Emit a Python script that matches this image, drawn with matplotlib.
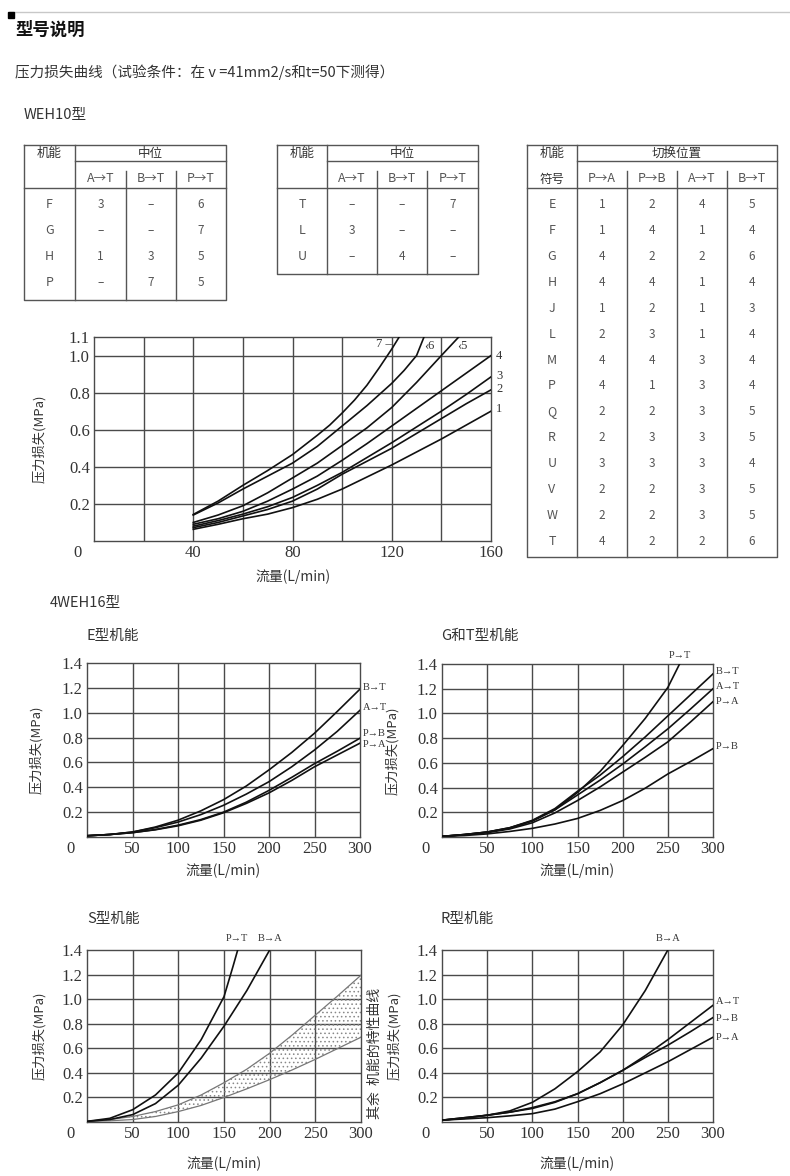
import matplotlib
matplotlib.use('Agg')
import matplotlib.pyplot as plt

plt.rcParams['font.family'] = ['Noto Sans CJK SC', 'DejaVu Sans']
plt.rcParams['hatch.linewidth'] = 0.6
plt.rcParams['lines.solid_joinstyle'] = 'round'
SERIF = ['Liberation Serif', 'DejaVu Serif']
GRID = '#4a4a4a'
TXT = '#333333'

# ---------------- tables (WEH10) ----------------
t1_cols = ['A→T', 'B→T', 'P→T']
t1_rows = ['F', 'G', 'H', 'P']
t1_vals = [['3', '–', '6'], ['–', '–', '7'], ['1', '3', '5'], ['–', '7', '5']]

t2_cols = ['A→T', 'B→T', 'P→T']
t2_rows = ['T', 'L', 'U']
t2_vals = [['–', '–', '7'], ['3', '–', '–'], ['–', '4', '–']]

t3_cols = ['P→A', 'P→B', 'A→T', 'B→T']
t3_rows = ['E', 'F', 'G', 'H', 'J', 'L', 'M', 'P', 'Q', 'R', 'U', 'V', 'W', 'T']
t3_vals = [['1', '2', '4', '5'], ['1', '4', '1', '4'], ['4', '2', '2', '6'],
           ['4', '4', '1', '4'], ['1', '2', '1', '3'], ['2', '3', '1', '4'],
           ['4', '4', '3', '4'], ['4', '1', '3', '4'], ['2', '2', '3', '5'],
           ['2', '3', '3', '5'], ['3', '3', '3', '4'], ['2', '2', '3', '5'],
           ['2', '2', '3', '5'], ['4', '2', '2', '6']]

# ---------------- WEH10 curves ----------------
w10_x = {
    '7': [40, 50, 60, 70, 80, 90, 95, 100, 105, 110, 115, 120, 123],
    '6': [40, 50, 60, 70, 80, 90, 100, 110, 120, 125, 130, 133],
    '5': [40, 50, 60, 70, 80, 90, 100, 110, 120, 130, 140, 147],
    '4': [40, 50, 60, 70, 80, 90, 100, 110, 120, 130, 140, 150, 160],
    '3': [40, 50, 60, 70, 80, 90, 100, 110, 120, 130, 140, 150, 160],
    '2': [40, 50, 60, 70, 80, 90, 100, 110, 120, 130, 140, 150, 160],
    '1': [40, 50, 60, 70, 80, 90, 100, 110, 120, 130, 140, 150, 160],
}
w10_y = {
    '7': [.143, .215, .30, .38, .466, .57, .625, .69, .76, .84, .935, 1.035, 1.10],
    '6': [.14, .205, .28, .35, .42, .51, .62, .73, .85, .92, 1.0, 1.10],
    '5': [.10, .14, .19, .26, .34, .42, .515, .61, .72, .855, 1.0, 1.10],
    '4': [.09, .12, .16, .215, .28, .35, .435, .525, .62, .715, .81, .905, 1.0],
    '3': [.08, .11, .145, .185, .235, .30, .37, .45, .53, .615, .70, .79, .885],
    '2': [.072, .10, .135, .17, .215, .28, .36, .43, .50, .58, .66, .74, .815],
    '1': [.063, .09, .12, .145, .18, .225, .28, .345, .41, .48, .55, .625, .70],
}

# ---------------- 4WEH16 curves ----------------
q25 = [0, 25, 50, 75, 100, 125, 150, 175, 200, 225, 250, 275, 300]

e_curves = {
    'B→T': (q25, [.01, .02, .04, .08, .135, .21, .30, .41, .54, .68, .835, 1.01, 1.19]),
    'A→T': (q25, [.01, .02, .04, .075, .12, .18, .255, .345, .445, .565, .70, .85, 1.02]),
    'P→B': (q25, [.01, .02, .035, .06, .095, .14, .20, .28, .375, .48, .59, .69, .795]),
    'P→A': (q25, [.01, .02, .035, .058, .09, .135, .195, .27, .355, .455, .565, .66, .755]),
}
gt_curves = {
    'P→T': ([0, 25, 50, 75, 100, 125, 150, 175, 200, 225, 250, 263],
            [.005, .02, .04, .075, .13, .22, .36, .53, .74, .96, 1.21, 1.40]),
    'B→T': (q25, [.005, .02, .04, .075, .135, .23, .37, .50, .65, .81, .98, 1.15, 1.32]),
    'A→T': (q25, [.005, .02, .04, .07, .13, .22, .34, .46, .59, .73, .875, 1.035, 1.20]),
    'P→A': (q25, [.005, .018, .035, .065, .115, .195, .295, .405, .525, .645, .77, .93, 1.095]),
    'P→B': (q25, [.005, .012, .025, .045, .07, .105, .15, .215, .295, .395, .51, .61, .715]),
}
s_curves = {
    'P→T': ([0, 25, 50, 75, 100, 125, 150, 160, 165],
            [.005, .03, .10, .22, .40, .67, 1.02, 1.27, 1.40]),
    'B→A': ([0, 25, 50, 75, 100, 125, 150, 175, 200],
            [.005, .02, .06, .15, .30, .52, .78, 1.07, 1.40]),
}
s_band_hi = [.005, .02, .045, .085, .14, .22, .32, .43, .56, .71, .87, 1.03, 1.195]
s_band_lo = [.005, .01, .02, .045, .085, .135, .20, .27, .345, .425, .51, .60, .69]
r_curves = {
    'B→A': ([0, 25, 50, 75, 100, 125, 150, 175, 200, 225, 250],
            [.015, .03, .055, .09, .16, .27, .41, .57, .79, 1.07, 1.40]),
    'A→T': (q25, [.015, .035, .055, .08, .117, .165, .23, .32, .42, .54, .67, .81, .95]),
    'P→B': (q25, [.015, .035, .055, .08, .11, .16, .23, .32, .42, .525, .625, .735, .85]),
    'P→A': (q25, [.015, .025, .035, .05, .068, .105, .165, .23, .31, .40, .49, .59, .69]),
}

W, H = 790, 1176
fig = plt.figure(figsize=(W / 100, H / 100), dpi=100)
fig.patch.set_facecolor('white')

bg = fig.add_axes([0, 0, 1, 1])
bg.set_xlim(0, W)
bg.set_ylim(H, 0)
bg.axis('off')


def px_axes(l, t, r, b):
    return fig.add_axes([l / W, 1 - b / H, (r - l) / W, (b - t) / H])


# header
bg.plot([10, W], [12, 12], color='#c8c8c8', lw=1)
bg.plot([11], [15], marker='s', ms=4, color='black')
bg.text(15, 30, '型号说明', fontsize=12.5, fontweight='bold', va='center', color='#111')
bg.text(15, 72, '压力损失曲线（试验条件：在 v =41mm2/s和t=50下测得）', fontsize=10.5,
        va='center', color=TXT)
bg.text(24, 115, 'WEH10型', fontsize=10.5, va='center', color=TXT)
bg.text(50, 603, '4WEH16型', fontsize=10.5, va='center', color=TXT)
bg.text(87, 636, 'E型机能', fontsize=10.5, va='center', color=TXT)
bg.text(441, 636, 'G和T型机能', fontsize=10.5, va='center', color=TXT)
bg.text(87, 919, 'S型机能', fontsize=10.5, va='center', color=TXT)
bg.text(441, 919, 'R型机能', fontsize=10.5, va='center', color=TXT)
bg.text(375, 1053, '其余  机能的特性曲线', rotation=90, fontsize=10, ha='center',
        va='center', color=TXT)


def draw_table(xs, bottom, rows, cols, vals, head, row0, dy, sub_first=None):
    top, mid, sub = 145, 161, 188
    lc = '#555555'
    kw = dict(color=lc, lw=1)
    bg.plot([xs[0], xs[-1], xs[-1], xs[0], xs[0]], [top, top, bottom, bottom, top], **kw)
    bg.plot([xs[1], xs[1]], [top, bottom], **kw)
    bg.plot([xs[1], xs[-1]], [mid, mid], **kw)
    bg.plot([xs[0], xs[-1]], [sub, sub], **kw)
    for x in xs[2:-1]:
        bg.plot([x, x], [171, bottom], **kw)
    fs = 9
    bg.text((xs[0] + xs[1]) / 2, 153, '机能', fontsize=fs, ha='center', va='center', color=TXT)
    if sub_first:
        bg.text((xs[0] + xs[1]) / 2, 179, sub_first, fontsize=fs, ha='center', va='center', color=TXT)
    bg.text((xs[1] + xs[-1]) / 2, 153, head, fontsize=fs, ha='center', va='center', color=TXT)
    for j, c in enumerate(cols):
        bg.text((xs[j + 1] + xs[j + 2]) / 2, 179, c, fontsize=fs, ha='center', va='center',
                color='#555')
    for i, r in enumerate(rows):
        y = row0 + i * dy
        bg.text((xs[0] + xs[1]) / 2, y, r, fontsize=fs, ha='center', va='center', color='#555')
        for j, v in enumerate(vals[i]):
            bg.text((xs[j + 1] + xs[j + 2]) / 2, y, v, fontsize=fs - 0.5, ha='center',
                    va='center', color='#555')


draw_table([24, 75, 126, 176, 226], 300, t1_rows, t1_cols, t1_vals, '中位', 205, 25.8)
draw_table([277, 327, 377, 427, 478], 274, t2_rows, t2_cols, t2_vals, '中位', 205, 25.8)
draw_table([527, 577, 627, 677, 727, 777], 557, t3_rows, t3_cols, t3_vals, '切换位置',
           205, 25.85, sub_first='符号')


def style_axes(ax, xmax, ymax, xgrid, ygrid, xticks, yticks, ylab_x, xlab_y):
    ax.set_xlim(0, xmax)
    ax.set_ylim(0, ymax)
    for g in xgrid:
        ax.axvline(g, color=GRID, lw=1, zorder=1)
    for g in ygrid:
        ax.axhline(g, color=GRID, lw=1, zorder=1)
    for s in ax.spines.values():
        s.set_color(GRID)
        s.set_linewidth(1)
    ax.set_xticks(xticks)
    ax.set_yticks(yticks)
    ax.set_xticklabels([f'{v:g}' for v in xticks], family=SERIF, fontsize=12, color=TXT)
    ax.set_yticklabels([f'{v:.1f}' for v in yticks], family=SERIF, fontsize=12, color=TXT)
    ax.tick_params(length=0, pad=3)
    ax.annotate('0', xy=(0, 0), xycoords='axes fraction', xytext=(-12, -3),
                textcoords='offset points', ha='center', va='top', family=SERIF,
                fontsize=12, color=TXT)
    ax.set_ylabel('压力损失(MPa)', fontsize=9.5, color=TXT)
    ax.yaxis.set_label_coords(ylab_x, 0.5)
    ax.set_xlabel('流量(L/min)', fontsize=10, color=TXT)
    ax.xaxis.set_label_coords(0.5, xlab_y)


# ---- WEH10 chart ----
ax = px_axes(94, 337, 491, 541)
style_axes(ax, 160, 1.1, [20, 40, 60, 80, 100, 120, 140], [0.2, 0.4, 0.6, 0.8, 1.0],
           [40, 80, 120, 160], [0.2, 0.4, 0.6, 0.8, 1.0, 1.1], -0.12, -0.14)
ax.set_yticklabels(['0.2', '0.4', '0.6', '0.8', '1.0', '1.1'])
for k in w10_x:
    ax.plot(w10_x[k], w10_y[k], color='#111', lw=1.2, zorder=3)
lab_kw = dict(family=SERIF, fontsize=9, color=TXT, va='center')
ax.text(113.5, 1.06, '7 –', **lab_kw)
ax.text(133, 1.05, '‹6', **lab_kw)
ax.text(146.5, 1.05, '‹5', **lab_kw)
for k, yv in zip(['4', '3', '2', '1'], [1.0, 0.89, 0.82, 0.71]):
    ax.text(162, yv, k, clip_on=False, **lab_kw)

# ---- 4WEH16 charts ----
x_grid = [50, 100, 150, 200, 250]
y_grid = [0.2, 0.4, 0.6, 0.8, 1.0, 1.2]
x_ticks = [50, 100, 150, 200, 250, 300]
y_ticks = [0.2, 0.4, 0.6, 0.8, 1.0, 1.2, 1.4]
small_kw = dict(family=SERIF, fontsize=7.5, color=TXT, va='center', clip_on=False)

ax = px_axes(87, 663, 360, 837)
style_axes(ax, 300, 1.4, x_grid, y_grid, x_ticks, y_ticks, -0.16, -0.15)
for k, (xs_, ys_) in e_curves.items():
    ax.plot(xs_, ys_, color='#111', lw=1.2, zorder=3)
for k, yv in zip(e_curves, [1.2, 1.04, 0.83, 0.745]):
    ax.text(303, yv, k, **small_kw)

ax = px_axes(442, 664, 713, 837)
style_axes(ax, 300, 1.4, x_grid, y_grid, x_ticks, y_ticks, -0.16, -0.15)
for k, (xs_, ys_) in gt_curves.items():
    ax.plot(xs_, ys_, color='#111', lw=1.2, zorder=3)
ax.text(263, 1.47, 'P→T', ha='center', **small_kw)
for k, yv in zip(['B→T', 'A→T', 'P→A', 'P→B'], [1.34, 1.22, 1.1, 0.73]):
    ax.text(303, yv, k, **small_kw)

ax = px_axes(87, 950, 361, 1122)
style_axes(ax, 300, 1.4, x_grid, y_grid, x_ticks, y_ticks, -0.15, -0.2)
ax.fill_between(q25, s_band_lo, s_band_hi, facecolor='none', edgecolor='#888',
                hatch='....', lw=0, zorder=2)
ax.plot(q25, s_band_hi, color='#777', lw=0.9, zorder=3)
ax.plot(q25, s_band_lo, color='#777', lw=0.9, zorder=3)
for k, (xs_, ys_) in s_curves.items():
    ax.plot(xs_, ys_, color='#111', lw=1.2, zorder=3)
ax.text(164, 1.49, 'P→T', ha='center', **small_kw)
ax.text(200, 1.49, 'B→A', ha='center', **small_kw)

ax = px_axes(442, 950, 713, 1122)
style_axes(ax, 300, 1.4, x_grid, y_grid, x_ticks, y_ticks, -0.15, -0.2)
for k, (xs_, ys_) in r_curves.items():
    ax.plot(xs_, ys_, color='#111', lw=1.2, zorder=3)
ax.text(250, 1.49, 'B→A', ha='center', **small_kw)
for k, yv in zip(['A→T', 'P→B', 'P→A'], [0.98, 0.84, 0.69]):
    ax.text(303, yv, k, **small_kw)

fig.savefig('out.png', dpi=100, facecolor='white')
